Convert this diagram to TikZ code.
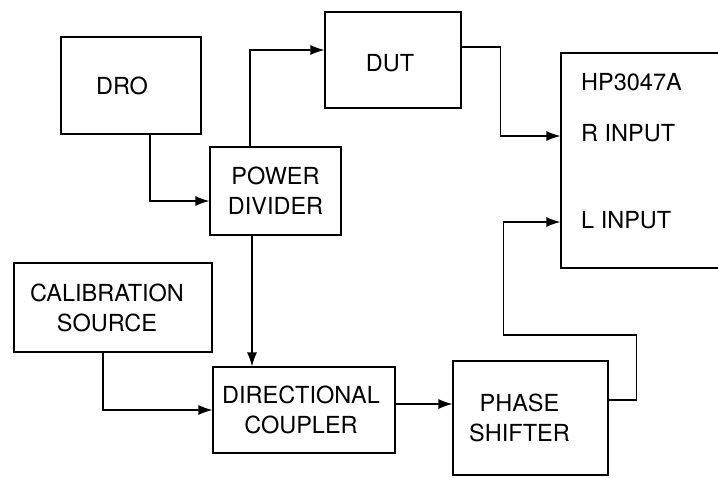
\documentclass[tikz,border=0pt]{standalone}
\usepackage{fontspec}
\setmainfont{TeX Gyre Heros}
\usetikzlibrary{arrows.meta}
\begin{document}
\begin{tikzpicture}[x=1pt,y=-1pt,
  blk/.style={draw, line width=1.2pt, inner sep=0pt, align=center,
    font=\fontsize{23.5}{30}\selectfont},
  txt/.style={inner sep=0pt, anchor=west, font=\fontsize{23.5}{30}\selectfont},
  conn/.style={line width=1.2pt, -{Latex[length=14pt,width=10pt]}}]
\useasboundingbox (0,0) rectangle (718,477);
\clip (0,0) rectangle (718,477);
\node[blk, minimum width=140pt, minimum height=97pt,
  label={[blk,draw=none,xshift=-9pt]center:DRO}] (dro) at (131,85.5) {};
\node[blk, minimum width=131pt, minimum height=88pt] (pd) at (275.5,191) {POWER\\DIVIDER};
\node[blk, minimum width=136pt, minimum height=96pt,
  label={[blk,draw=none,xshift=-3pt,yshift=-3pt]center:DUT}] (dut) at (393,60) {};
\node[blk, minimum width=179pt, minimum height=215pt] (hp) at (650.5,160.5) {};
\node[txt] (hpname) at (581,82) {HP3047A};
\node[txt] (rin) at (581,133) {R INPUT};
\node[txt] (lin) at (581,220) {L INPUT};
\node[blk, minimum width=198pt, minimum height=89pt,
  label={[blk,draw=none,xshift=-6pt]center:CALIBRATION\\SOURCE}] (cal) at (113,307.5) {};
\node[blk, minimum width=182pt, minimum height=86pt,
  label={[blk,draw=none,xshift=-3pt]center:DIRECTIONAL\\COUPLER}] (dc) at (304,410) {};
\node[blk, minimum width=155pt, minimum height=114pt,
  label={[blk,draw=none,xshift=-11pt]center:PHASE\\SHIFTER}] (ps) at (530.5,418) {};
\draw[conn] ([xshift=19pt]dro.south) |- ([yshift=-10pt]pd.west);
\draw[conn] ([xshift=-25.5pt]pd.north) |- ([yshift=10pt]dut.west);
\draw[conn] ([yshift=13pt]dut.east) -- ++(39pt,0) |- ([yshift=24.5pt]hp.west);
\draw[conn] ([yshift=18pt]ps.east) -- ++(28pt,0) -- ++(0,65pt) -- ++(-133pt,0) |- ([yshift=-61.5pt]hp.west);
\draw[conn] ([xshift=-23.5pt]pd.south) -- ([xshift=-52pt]dc.north);
\draw[conn] ([xshift=-10pt]cal.south) |- (dc.west);
\draw[conn] ([yshift=6pt]dc.east) -- ([yshift=6pt]dc.east -| ps.west);
\end{tikzpicture}
\end{document}
